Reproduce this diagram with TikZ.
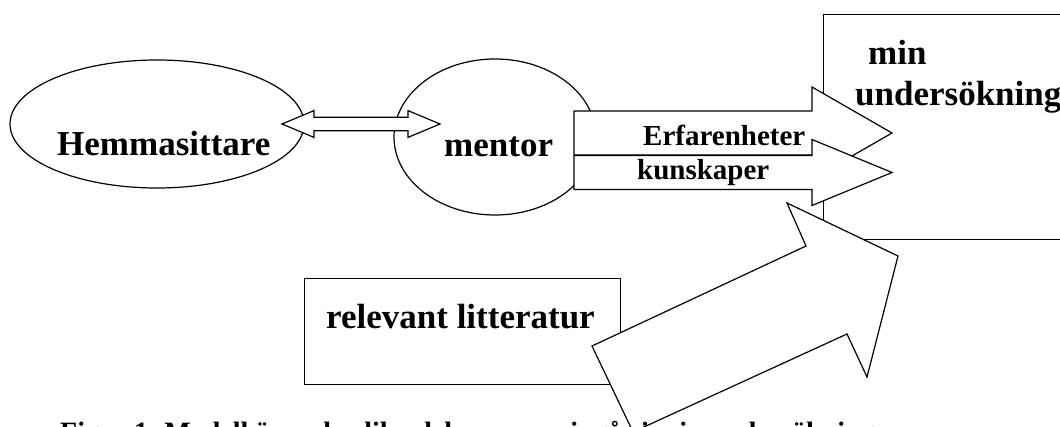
\documentclass[tikz,border=0pt]{standalone}
\usepackage{fontspec}
\setmainfont{Liberation Serif}
\usetikzlibrary{shapes.geometric}

\begin{document}
\begin{tikzpicture}[x=1pt,y=-1pt]
    \newcommand{\fatarrow}[6]{\draw[fat] (#1,#4-#5) -- (#2,#4-#5) -- (#2,#4-#6) -- (#3,#4) -- (#2,#4+#6) -- (#2,#4+#5) -- (#1,#4+#5) -- cycle;}
    \tikzstyle{oval}  = [ellipse,draw=black,line width=1.2pt,inner sep=0pt]
    \tikzstyle{frame} = [draw=black,fill=white,line width=1.2pt,inner sep=0pt,anchor=north west]
    \tikzstyle{fat}   = [draw=black,fill=white,line width=1.2pt,line join=miter]
    \tikzstyle{lbl}   = [inner sep=0pt,anchor=base west,font=\fontsize{35}{40}\selectfont\bfseries]
    \tikzstyle{small} = [inner sep=0pt,anchor=base west,font=\fontsize{29}{32}\selectfont\bfseries]

    \useasboundingbox (0,0) rectangle (1060,427);
    \clip (0,0) rectangle (1060,427);

    % ovals
    \node[oval,minimum width=294pt,minimum height=128pt] (hem) at (157,124) {};
    \node[oval,minimum width=202pt,minimum height=156pt] (mentor) at (495,137) {};

    % double arrow between the ovals
    \draw[fat] (282,124) -- (314,110.6) -- (314,117.3) -- (408,117.3) -- (408,110.6) -- (440,124)
      -- (408,137.4) -- (408,130.7) -- (314,130.7) -- (314,137.4) -- cycle;

    % boxes
    \node[frame,minimum width=260pt,minimum height=225pt] (study) at (823,14) {};
    \node[frame,minimum width=316pt,minimum height=106pt] (lit) at (304,278) {};

    % arrows into the study
    \fatarrow{574}{812}{892}{133}{22}{46}
    \fatarrow{574}{812}{892}{172.5}{17}{33}
    \draw[fat] (633,432) -- (592,346) -- (806,246) -- (787,203) -- (898,256) -- (867,377) -- (847,334) -- cycle;

    % labels
    \node[lbl] (hemtext) at (57,156) {Hemmasittare};
    \node[lbl] (mentortext) at (444,157) {mentor};
    \node[lbl] (min) at (868,65) {min};
    \node[lbl] (und) at (855,106) {undersökning};
    \node[lbl] (littext) at (326,329) {relevant litteratur};
    \node[small] (erf) at (643,146) {Erfarenheter};
    \node[small] (kun) at (637,180) {kunskaper};
    \node[inner sep=0pt,anchor=base west,font=\fontsize{28}{30}\selectfont\bfseries] (caption) at (60,441)
      {Figur 1. Modell över de olika delarna som ingår i min undersökning};
\end{tikzpicture}
\end{document}
